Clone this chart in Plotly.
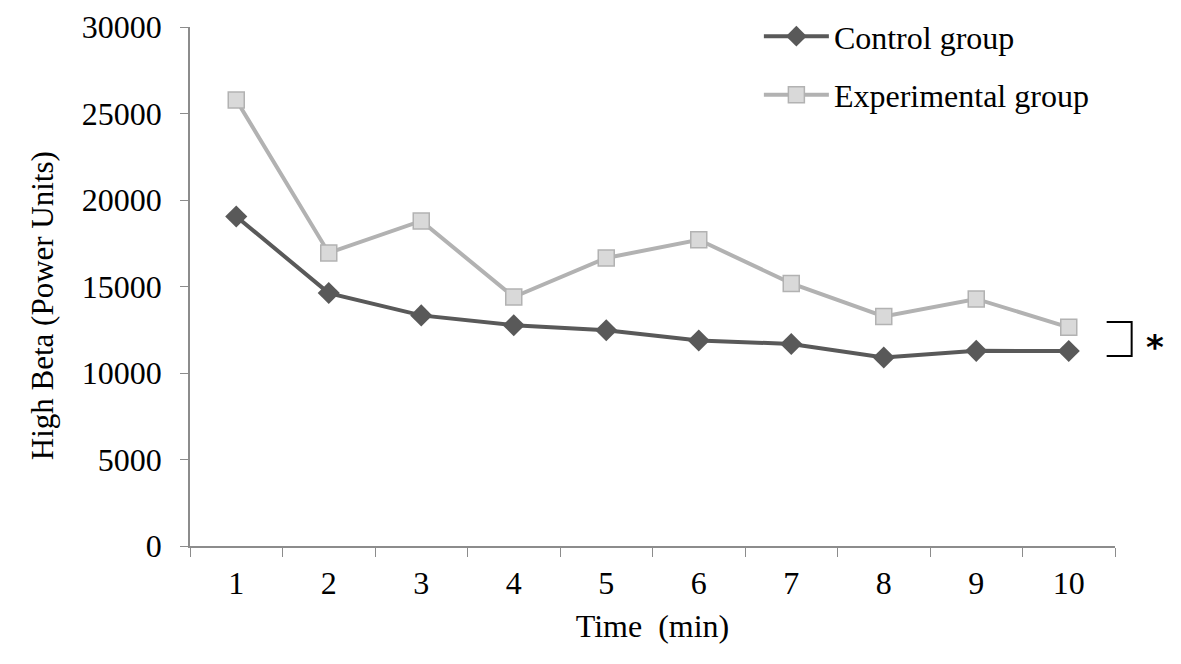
import plotly.graph_objects as go

# ====== data ======
minutes = ['1', '2', '3', '4', '5', '6', '7', '8', '9', '10']
control = [19050, 14620, 13330, 12760, 12470, 11880, 11680, 10900, 11280, 11270]
experimental = [25780, 16940, 18790, 14390, 16650, 17700, 15180, 13270, 14280, 12640]
y_ticks = [0, 5000, 10000, 15000, 20000, 25000, 30000]

FONT = 'Liberation Serif, Times New Roman, serif'
AXIS_GREY = '#8c8c8c'
TICKFONT = dict(family=FONT, size=32, color='black')

fig = go.Figure()

fig.add_trace(go.Scatter(
    x=minutes, y=control, name='Control group', mode='lines+markers',
    legendgroup='c',
    line=dict(color='#595959', width=4),
    marker=dict(symbol='diamond', size=17, color='#595959'),
))
fig.add_trace(go.Scatter(
    x=minutes, y=experimental, name='Experimental group', mode='lines+markers',
    legendgroup='e',
    line=dict(color='#b2b2b2', width=4),
    marker=dict(symbol='square', size=16, color='#d9d9d9',
                line=dict(color='#b2b2b2', width=1.5)),
))

# significance bracket + asterisk to the right of the last points
fig.add_shape(type='path', xref='paper', yref='y',
              path='M 0.991 12950 L 1.018 12950 L 1.018 10980 L 0.991 10980',
              line=dict(color='black', width=2))
fig.add_annotation(text='<b>*</b>', xref='paper', yref='y', x=1.031, y=11500,
                   xanchor='left', showarrow=False,
                   font=dict(family='DejaVu Sans', size=34, color='black'))

# y title as an annotation so it can sit a bit lower, like the reference
fig.add_annotation(text='High Beta (Power Units)', xref='paper', yref='paper',
                   x=-0.16, y=0.462, xanchor='center', yanchor='middle',
                   textangle=-90, showarrow=False,
                   font=dict(family=FONT, size=31, color='black'))

# page body adds ~8px offset, margins are compensated for it
fig.update_layout(
    width=1181, height=664,
    margin=dict(l=182, r=74, t=19, b=126, autoexpand=False),
    paper_bgcolor='white', plot_bgcolor='white',
    font=dict(family=FONT, size=32, color='black'),
    showlegend=True,
    legend=dict(x=0.615, y=1.035, xanchor='left', yanchor='top',
                bgcolor='rgba(0,0,0,0)', traceorder='grouped', itemwidth=65,
                tracegroupgap=14, font=dict(family=FONT, size=32)),
)
fig.update_xaxes(
    type='category', range=[-0.5, 9.5], tickson='boundaries', ticks='outside',
    ticklen=9, tickcolor=AXIS_GREY, showline=True, linecolor=AXIS_GREY,
    linewidth=1.5, showgrid=False, zeroline=False, automargin=False,
    tickfont=TICKFONT, ticklabelstandoff=8,
    title=dict(text='Time\u00a0\u00a0(min)', standoff=14, font=dict(family=FONT, size=32)),
)
fig.update_yaxes(
    range=[0, 30000], tickvals=y_ticks, tickformat='d', ticks='outside', ticklen=8,
    tickcolor=AXIS_GREY, showline=True, linecolor=AXIS_GREY, linewidth=1.5,
    showgrid=False, zeroline=False, automargin=False,
    tickfont=TICKFONT, ticklabelstandoff=12,
)

fig.write_html('out.html')
